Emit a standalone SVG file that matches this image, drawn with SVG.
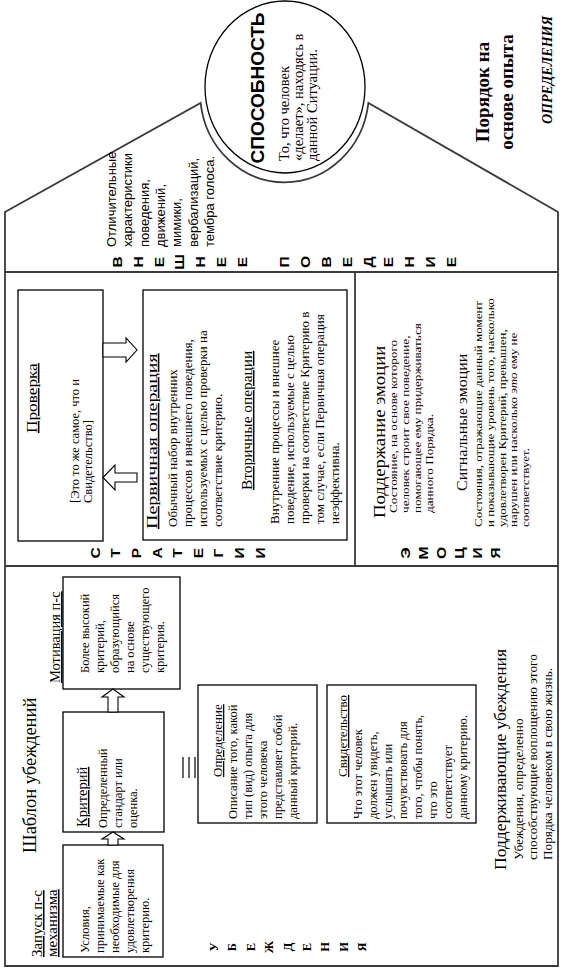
<svg xmlns="http://www.w3.org/2000/svg" width="564" height="972" viewBox="0 0 564 972">
<style>
.s{font-family:"Liberation Serif","Times New Roman",serif;fill:#000}
.a{font-family:"Liberation Sans",Arial,sans-serif;fill:#000}
.u{text-decoration:underline}
.b{font-weight:bold}
.box{fill:none;stroke:#000;stroke-width:1.3}
.fr{fill:none;stroke:#3a3a3a;stroke-width:1.8}
.arr{fill:#fff;stroke:#000;stroke-width:1.1}
.ln{stroke:#000;stroke-width:1.2}
.lt{font-family:"Liberation Sans",Arial,sans-serif;font-weight:bold;font-size:13.5px}
.lts{font-family:"Liberation Serif","Times New Roman",serif;font-weight:bold;font-size:12.5px}
</style>
<rect width="564" height="972" fill="#fff"/>
<g id="frame">
<path class="fr" d="M5,966 V212 L200.6,103 A84.5,90 0 0 0 368.4,103 L558,212 V966 Z"/>
<line class="fr" x1="5" y1="272" x2="558" y2="272"/>
<line class="fr" x1="5" y1="566" x2="558" y2="566"/>
<line class="fr" x1="355" y1="272" x2="355" y2="566"/>
</g>
<g id="order-title">
<text class="s b" font-size="19" text-anchor="middle" transform="translate(489,92) rotate(-90)"><tspan x="0" y="0">Порядок на</tspan><tspan x="0" dy="24">основе опыта</tspan></text>
</g>
<g id="definitions-label">
<text class="s b" font-style="italic" font-size="14" text-anchor="middle" transform="translate(552,70) rotate(-90)">ОПРЕДЕЛЕНИЯ</text>
</g>
<g id="ability">
<ellipse cx="285" cy="87" rx="80" ry="86" fill="none" stroke="#000" stroke-width="1.3"/>
<text class="a b" font-size="19" text-anchor="middle" transform="translate(264,88) rotate(-90)">СПОСОБНОСТЬ</text>
<text class="s" font-size="14.5" transform="translate(289,161) rotate(-90)"><tspan x="0" y="0">То, что человек</tspan><tspan x="0" dy="14">«делает», находясь в</tspan><tspan x="0" dy="14">данной Ситуации.</tspan></text>
</g>
<g id="outward-behavior">
<text class="a" font-size="13" transform="translate(116,247) rotate(-90)"><tspan x="0" y="0">Отличительные</tspan><tspan x="0" dy="16.3">характеристики</tspan><tspan x="0" dy="16.3">поведения,</tspan><tspan x="0" dy="16.3">движений,</tspan><tspan x="0" dy="16.3">мимики,</tspan><tspan x="0" dy="16.3">вербализаций,</tspan><tspan x="0" dy="16.3">тембра голоса.</tspan></text>
<text class="lt" text-anchor="middle" transform="translate(121.8,262) rotate(-90) scale(1.15,1)"><tspan x="0" y="0">В</tspan><tspan x="0" dy="20.9">Н</tspan><tspan x="0" dy="20.9">Е</tspan><tspan x="0" dy="20.9">Ш</tspan><tspan x="0" dy="20.9">Н</tspan><tspan x="0" dy="20.9">Е</tspan><tspan x="0" dy="20.9">Е</tspan></text>
<text class="lt" text-anchor="middle" transform="translate(289,262) rotate(-90) scale(1.15,1)"><tspan x="0" y="0">П</tspan><tspan x="0" dy="20.9">О</tspan><tspan x="0" dy="20.9">В</tspan><tspan x="0" dy="20.9">Е</tspan><tspan x="0" dy="20.9">Д</tspan><tspan x="0" dy="20.9">Е</tspan><tspan x="0" dy="20.9">Н</tspan><tspan x="0" dy="20.9">И</tspan><tspan x="0" dy="20.9">Е</tspan></text>
</g>
<g id="proverka">
<rect class="box" x="18" y="290" width="85" height="251"/>
<text class="s u" font-size="15" transform="translate(37,433) rotate(-90) scale(1.15,1)">Проверка</text>
<text class="s" font-size="12.5" transform="translate(79,503) rotate(-90)"><tspan x="0" y="0">[Это то же самое, что и</tspan><tspan x="0" dy="13">Свидетельство]</tspan></text>
</g>
<g id="operations">
<rect class="box" x="143" y="290" width="204" height="250"/>
<text class="s u" font-size="15" transform="translate(157,529) rotate(-90) scale(1.33,1)">Первичная операция</text>
<text class="s" font-size="13" transform="translate(177,527) rotate(-90)"><tspan x="0" y="0">Обычный набор внутренних</tspan><tspan x="0" dy="15">процессов и внешнего поведения,</tspan><tspan x="0" dy="15">используемых с целью проверки на</tspan><tspan x="0" dy="15">соответствие критерию.</tspan></text>
<text class="s u" font-size="14.5" transform="translate(252,490) rotate(-90) scale(1.06,1)">Вторичные операции</text>
<text class="s" font-size="13" transform="translate(279,524) rotate(-90)"><tspan x="0" y="0">Внутренние процессы и внешнее</tspan><tspan x="0" dy="15">поведение, используемые с целью</tspan><tspan x="0" dy="15">проверки на соответствие Критерию в</tspan><tspan x="0" dy="15">том случае, если Первичная операция</tspan><tspan x="0" dy="15">неэффективна.</tspan></text>
</g>
<g id="strategies-label">
<text class="lt" text-anchor="middle" transform="translate(99.8,553) rotate(-90) scale(1.15,1)"><tspan x="0" y="0">С</tspan><tspan x="0" dy="20.6">Т</tspan><tspan x="0" dy="20.6">Р</tspan><tspan x="0" dy="20.6">А</tspan><tspan x="0" dy="20.6">Т</tspan><tspan x="0" dy="20.6">Е</tspan><tspan x="0" dy="20.6">Г</tspan><tspan x="0" dy="20.6">И</tspan><tspan x="0" dy="20.6">И</tspan></text>
</g>
<g id="emotions">
<text class="s" font-size="17" transform="translate(385,518) rotate(-90) scale(1.1,1)">Поддержание эмоции</text>
<text class="s" font-size="11" transform="translate(397,513) rotate(-90) scale(1.2,1)"><tspan x="0" y="0">Состояние, на основе которого</tspan><tspan x="0" dy="12">человек строит свое поведение,</tspan><tspan x="0" dy="12">помогающее ему придерживаться</tspan><tspan x="0" dy="12">данного Порядка.</tspan></text>
<text class="s" font-size="15.5" transform="translate(467,491) rotate(-90) scale(1.03,1)">Сигнальные эмоции</text>
<text class="s" font-size="11" transform="translate(482,527) rotate(-90) scale(1.18,1)"><tspan x="0" y="0">Состояния, отражающие данный момент</tspan><tspan x="0" dy="11.8">и показывающие уровень того, насколько</tspan><tspan x="0" dy="11.8">удовлетворен Критерий, превышен,</tspan><tspan x="0" dy="11.8">нарушен или насколько <tspan font-style="italic">это</tspan> ему не</tspan><tspan x="0" dy="11.8">соответствует.</tspan></text>
<text class="lt" text-anchor="middle" transform="translate(409.8,553) rotate(-90) scale(1.15,1)"><tspan x="0" y="0">Э</tspan><tspan x="0" dy="18">М</tspan><tspan x="0" dy="18">О</tspan><tspan x="0" dy="18">Ц</tspan><tspan x="0" dy="18">И</tspan><tspan x="0" dy="18">Я</tspan></text>
</g>
<g id="belief-template">
<text class="s" font-size="18.5" transform="translate(36,853) rotate(-90)">Шаблон убеждений</text>
</g>
<g id="motivation">
<rect class="box" x="63" y="577" width="117" height="112"/>
<text class="s u" font-size="14.5" transform="translate(60,683) rotate(-90)">Мотивация п-с</text>
<text class="s" font-size="12.5" transform="translate(89,673) rotate(-90)"><tspan x="0" y="0">Более высокий</tspan><tspan x="0" dy="15">критерий,</tspan><tspan x="0" dy="15">образующийся</tspan><tspan x="0" dy="15">на основе</tspan><tspan x="0" dy="15">существующего</tspan><tspan x="0" dy="15">критерия.</tspan></text>
</g>
<g id="criterion">
<rect class="box" x="63" y="712" width="101" height="120"/>
<text class="s u" font-size="14.5" transform="translate(87,827) rotate(-90)">Критерий</text>
<text class="s" font-size="12.5" transform="translate(107,828) rotate(-90)"><tspan x="0" y="0">Определенный</tspan><tspan x="0" dy="15">стандарт или</tspan><tspan x="0" dy="15">оценка.</tspan></text>
</g>
<g id="trigger">
<rect class="box" x="63" y="845" width="100" height="112"/>
<text class="s u" font-size="15" transform="translate(42,957) rotate(-90)"><tspan x="0" y="0">Запуск п-с</tspan><tspan x="0" dy="15">механизма</tspan></text>
<text class="s" font-size="12.5" transform="translate(89,953) rotate(-90)"><tspan x="0" y="0">Условия,</tspan><tspan x="0" dy="15">принимаемые как</tspan><tspan x="0" dy="15">необходимые для</tspan><tspan x="0" dy="15">удовлетворения</tspan><tspan x="0" dy="15">критерию.</tspan></text>
</g>
<g id="definition">
<rect class="box" x="198" y="685" width="119" height="138"/>
<text class="s u" font-size="13" transform="translate(222,777) rotate(-90)">Определение</text>
<text class="s" font-size="12.5" transform="translate(237,819) rotate(-90)"><tspan x="0" y="0">Описание того, какой</tspan><tspan x="0" dy="15">тип (вид) опыта для</tspan><tspan x="0" dy="15">этого человека</tspan><tspan x="0" dy="15">представляет собой</tspan><tspan x="0" dy="15">данный критерий.</tspan></text>
</g>
<g id="evidence">
<rect class="box" x="327" y="685" width="149" height="138"/>
<text class="s u" font-size="13" transform="translate(347,777) rotate(-90)">Свидетельство</text>
<text class="s" font-size="12.5" transform="translate(362,819) rotate(-90)"><tspan x="0" y="0">Что этот человек</tspan><tspan x="0" dy="15">должен увидеть,</tspan><tspan x="0" dy="15">услышать или</tspan><tspan x="0" dy="15">почувствовать для</tspan><tspan x="0" dy="15">того, чтобы понять,</tspan><tspan x="0" dy="15">что это</tspan><tspan x="0" dy="15">соответствует</tspan><tspan x="0" dy="15">данному критерию.</tspan></text>
</g>
<g id="supporting-beliefs">
<text class="s" font-size="17.5" transform="translate(506,870) rotate(-90)">Поддерживающие убеждения</text>
<text class="s" font-size="12.5" transform="translate(523,860) rotate(-90) scale(1.06,1)"><tspan x="0" y="0">Убеждения, определенно</tspan><tspan x="0" dy="14.5">способствующие воплощению этого</tspan><tspan x="0" dy="14.5">Порядка человеком в свою жизнь.</tspan></text>
</g>
<g id="beliefs-label">
<text class="lts" text-anchor="middle" transform="translate(217.5,947) rotate(-90)"><tspan x="0" y="0">У</tspan><tspan x="0" dy="18.6">Б</tspan><tspan x="0" dy="18.6">Е</tspan><tspan x="0" dy="18.6">Ж</tspan><tspan x="0" dy="18.6">Д</tspan><tspan x="0" dy="18.6">Е</tspan><tspan x="0" dy="18.6">Н</tspan><tspan x="0" dy="18.6">И</tspan><tspan x="0" dy="18.6">Я</tspan></text>
</g>
<g id="connectors">
<polygon class="arr" points="103,343 126,343 126,338 137,350 126,362 126,357 103,357"/>
<polygon class="arr" points="103,477.5 115,465 115,473 137,473 137,482 115,482 115,490"/>
<polygon class="arr" points="108,845 108,839 102,839 113,832 124,839 118,839 118,845"/>
<polygon class="arr" points="108,712 108,697 102,697 113,689 124,697 118,697 118,712"/>
<line class="ln" x1="183" y1="757" x2="183" y2="778"/>
<line class="ln" x1="189" y1="757" x2="189" y2="778"/>
<line class="ln" x1="195" y1="757" x2="195" y2="778"/>
</g>
</svg>
